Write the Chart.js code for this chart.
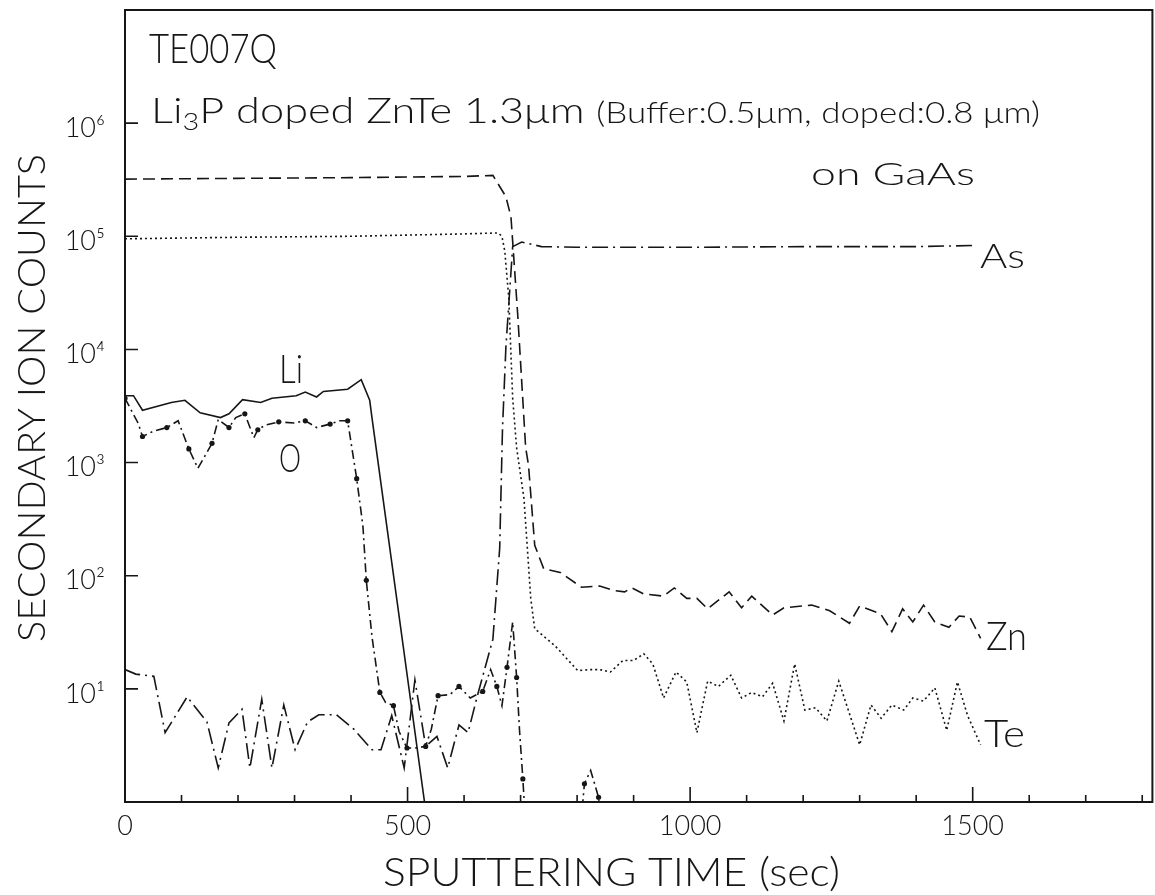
<!DOCTYPE html>
<html>
<head>
<meta charset="utf-8">
<script src="https://cdn.jsdelivr.net/npm/chart.js@4.4.1/dist/chart.umd.min.js"></script>
<style>
  html, body { margin: 0; padding: 0; background: #fff; }
  canvas { display: block; }
</style>
</head>
<body>
<canvas id="chart" width="1155" height="895"></canvas>
<script>
// tick values
const xTicks = [0, 500, 1000, 1500]
const yTicks = [10, 100, 1000, 10000, 100000, 1000000]

// sputtering time (sec) / secondary ion counts
const znTime = [0, 200, 400, 600, 651, 674, 683, 695, 709, 714, 725, 741, 770, 808, 840, 865, 884, 897, 918, 953, 972, 994, 1012, 1031, 1069, 1091, 1109, 1146, 1166, 1215, 1247, 1282, 1300, 1337, 1357, 1376, 1394, 1413, 1433, 1458, 1476, 1495, 1514]
const znCounts = [320000, 325000, 330000, 338000, 345000, 224000, 148000, 20000, 1350, 950, 186, 115, 107, 79, 81, 74, 72, 78, 69, 66, 78, 63, 63, 51, 72, 52, 66, 45, 52, 55, 49, 38, 54, 46, 32, 51, 39, 55, 39, 35, 44, 43, 28]

const teTime = [0, 200, 400, 600, 660, 667, 672, 679, 686, 693, 706, 718, 725, 761, 801, 824, 840, 859, 881, 900, 918, 934, 953, 975, 994, 1012, 1031, 1050, 1072, 1091, 1109, 1128, 1146, 1166, 1185, 1203, 1222, 1242, 1263, 1300, 1320, 1338, 1357, 1378, 1394, 1413, 1433, 1454, 1473, 1491, 1514]
const teCounts = [95000, 98000, 100000, 105000, 107000, 100000, 74000, 29000, 3700, 1350, 480, 63, 34, 24, 14.5, 14.8, 14.8, 14.1, 17.8, 17.8, 20.4, 16.6, 8.3, 14.1, 11.5, 4.1, 11.7, 10.5, 13.2, 8.3, 9.3, 8.5, 11.2, 5.2, 16.6, 6.5, 6.8, 5.2, 11.7, 3.2, 7.2, 5.5, 7.2, 6.5, 8.3, 7.8, 10.2, 4.3, 11.5, 5.8, 3.2]

const asTime = [0, 19, 51, 71, 110, 145, 165, 184, 207, 221, 242, 260, 281, 301, 323, 343, 374, 405, 437, 453, 472, 494, 513, 532, 552, 571, 591, 607, 623, 651, 663, 668, 674, 686, 702, 737, 800, 1000, 1200, 1400, 1504]
const asCounts = [14.8, 13.5, 12.9, 4.1, 8.5, 5.1, 2.0, 5.0, 6.6, 2.0, 8.1, 2.0, 7.2, 2.9, 5.1, 5.9, 5.9, 4.4, 2.9, 2.9, 5.8, 2.0, 12, 3.1, 3.8, 2.0, 4.8, 4.1, 8.5, 27.5, 174, 2000, 10500, 81000, 89000, 81000, 80000, 80000, 81000, 81000, 83000]

const liTime = [0, 15, 31, 82, 106, 133, 169, 184, 208, 240, 260, 303, 319, 339, 351, 394, 418, 433, 437, 530]
const liCounts = [3900, 3900, 2900, 3400, 3550, 2750, 2500, 2700, 3600, 3400, 3700, 3900, 4200, 3800, 4250, 4450, 5400, 3550, 2500, 1.0]

const oTime = [0, 23, 31, 51, 74, 94, 113, 129, 154, 165, 184, 196, 212, 228, 235, 248, 272, 299, 319, 339, 363, 379, 394, 398, 410, 421, 427, 437, 451, 461, 475, 485, 499, 513, 532, 542, 554, 575, 591, 611, 633, 647, 658, 667, 676, 686, 693, 698, 704, 710, 760, 806, 813, 824, 838, 842]
const oCounts = [3700, 2240, 1700, 1900, 2040, 2340, 1320, 890, 1480, 2400, 2040, 2500, 2700, 1660, 1950, 2140, 2290, 2240, 2340, 2040, 2190, 2340, 2340, 1740, 720, 275, 91, 29, 9.3, 7.6, 7.1, 4.2, 3.0, 3.0, 3.1, 4.4, 8.7, 8.9, 10.5, 8.3, 9.5, 14.8, 10.5, 7.1, 15.5, 39, 12.6, 4.4, 1.6, 0.5, null, 0.6, 1.45, 1.9, 1.1, 0.6]

const toPoints = (t, c) => t.map((x, i) => ({ x: x, y: c[i] }))
const sup = ['⁰', '¹', '²', '³', '⁴', '⁵', '⁶', '⁷']

const ink = '#161616'
const family = "Lato, 'DejaVu Sans', sans-serif"

// draws text runs squeezed to a given width (the original lettering is narrow)
function fitText(ctx, runs, x, y, width) {
    let natural = 0
    runs.forEach(r => {
        ctx.font = '300 ' + r[1] + 'px ' + family
        natural += ctx.measureText(r[0]).width
    })
    ctx.save()
    ctx.translate(x, y)
    ctx.scale(width / natural, 1)
    let cx = 0
    runs.forEach(r => {
        ctx.font = '300 ' + r[1] + 'px ' + family
        ctx.fillText(r[0], cx, r[2] || 0)
        cx += ctx.measureText(r[0]).width
    })
    ctx.restore()
}

const frame = {
    id: 'frame',
    afterDraw(chart) {
        const { ctx, chartArea: a, scales: { x, y } } = chart
        ctx.save()
        ctx.strokeStyle = ink
        ctx.fillStyle = ink
        ctx.lineWidth = 2
        ctx.strokeRect(a.left, a.top, a.right - a.left, a.bottom - a.top)

        // inward ticks
        ctx.lineWidth = 1.6
        ctx.beginPath()
        for (let v = 100; v <= 1800; v += 100) {
            const px = x.getPixelForValue(v)
            ctx.moveTo(px, a.bottom)
            ctx.lineTo(px, a.bottom - (v % 500 === 0 ? 15 : 7))
        }
        yTicks.forEach(v => {
            const py = y.getPixelForValue(v)
            ctx.moveTo(a.left, py)
            ctx.lineTo(a.left + 13, py)
        })
        ctx.stroke()

        ctx.textBaseline = 'alphabetic'
        ctx.textAlign = 'left'
        fitText(ctx, [['TE007Q', 42]], 149, 63, 128)
        fitText(ctx, [['Li', 36], ['3', 24, 7], ['P doped ZnTe 1.3μm ', 36], ['(Buffer:0.5μm, doped:0.8 μm)', 29]], 151, 123, 889)
        fitText(ctx, [['on GaAs', 32]], 811, 185, 164)
        fitText(ctx, [['As', 33]], 980, 268, 45)
        fitText(ctx, [['Zn', 40]], 986, 650, 41)
        fitText(ctx, [['Te', 38]], 984, 747, 41)
        fitText(ctx, [['Li', 40]], 279, 383, 24)
        fitText(ctx, [['O', 40]], 279, 472, 22)
        fitText(ctx, [['SPUTTERING TIME (sec)', 40]], 383, 886, 457)

        ctx.save()
        ctx.translate(45, 642)
        ctx.rotate(-Math.PI / 2)
        fitText(ctx, [['SECONDARY ION COUNTS', 38]], 0, 0, 488)
        ctx.restore()
        ctx.restore()
    }
}

const noPad = s => { s.paddingTop = 0; s.paddingBottom = 0; s.paddingLeft = 0; s.paddingRight = 0 }

const base = { borderColor: ink, borderWidth: 1.6, pointRadius: 0, pointHoverRadius: 0, tension: 0, fill: false }

new Chart(document.getElementById('chart'), {
    type: 'line',
    data: {
        datasets: [
            { ...base, label: 'Zn', data: toPoints(znTime, znCounts), borderDash: [12, 6] },
            { ...base, label: 'Te', data: toPoints(teTime, teCounts), borderDash: [2, 3] },
            { ...base, label: 'As', data: toPoints(asTime, asCounts), borderDash: [16, 5, 2, 5] },
            { ...base, label: 'Li', data: toPoints(liTime, liCounts) },
            {
                ...base, label: 'O', data: toPoints(oTime, oCounts), borderDash: [9, 4, 2, 4],
                pointRadius: c => (c.dataIndex % 2 === 0 ? 2.6 : 0),
                pointBackgroundColor: ink, pointBorderWidth: 0
            }
        ]
    },
    options: {
        responsive: false,
        animation: false,
        events: [],
        layout: { padding: { top: 10, right: 2, left: 0, bottom: 0 } },
        scales: {
            x: {
                type: 'linear',
                min: 0,
                max: 1818,
                afterBuildTicks: s => { s.ticks = xTicks.map(v => ({ value: v })) },
                afterFit: s => { s.height = 93; noPad(s) },
                grid: { display: false, drawTicks: false },
                border: { display: false },
                ticks: {
                    color: ink, padding: 8, maxRotation: 0,
                    font: { family: family, weight: 300, size: 27 },
                    callback: v => String(v)
                }
            },
            y: {
                type: 'logarithmic',
                min: 1,
                max: 10000000,
                afterBuildTicks: s => { s.ticks = yTicks.map(v => ({ value: v })) },
                afterFit: s => { s.width = 125; noPad(s) },
                grid: { display: false, drawTicks: false },
                border: { display: false },
                ticks: {
                    color: ink, padding: 20, labelOffset: 5,
                    font: { family: family, weight: 300, size: 27 },
                    callback: v => '10' + sup[Math.round(Math.log10(v))]
                }
            }
        },
        plugins: {
            legend: { display: false },
            tooltip: { enabled: false }
        }
    },
    plugins: [frame]
})
</script>
</body>
</html>
